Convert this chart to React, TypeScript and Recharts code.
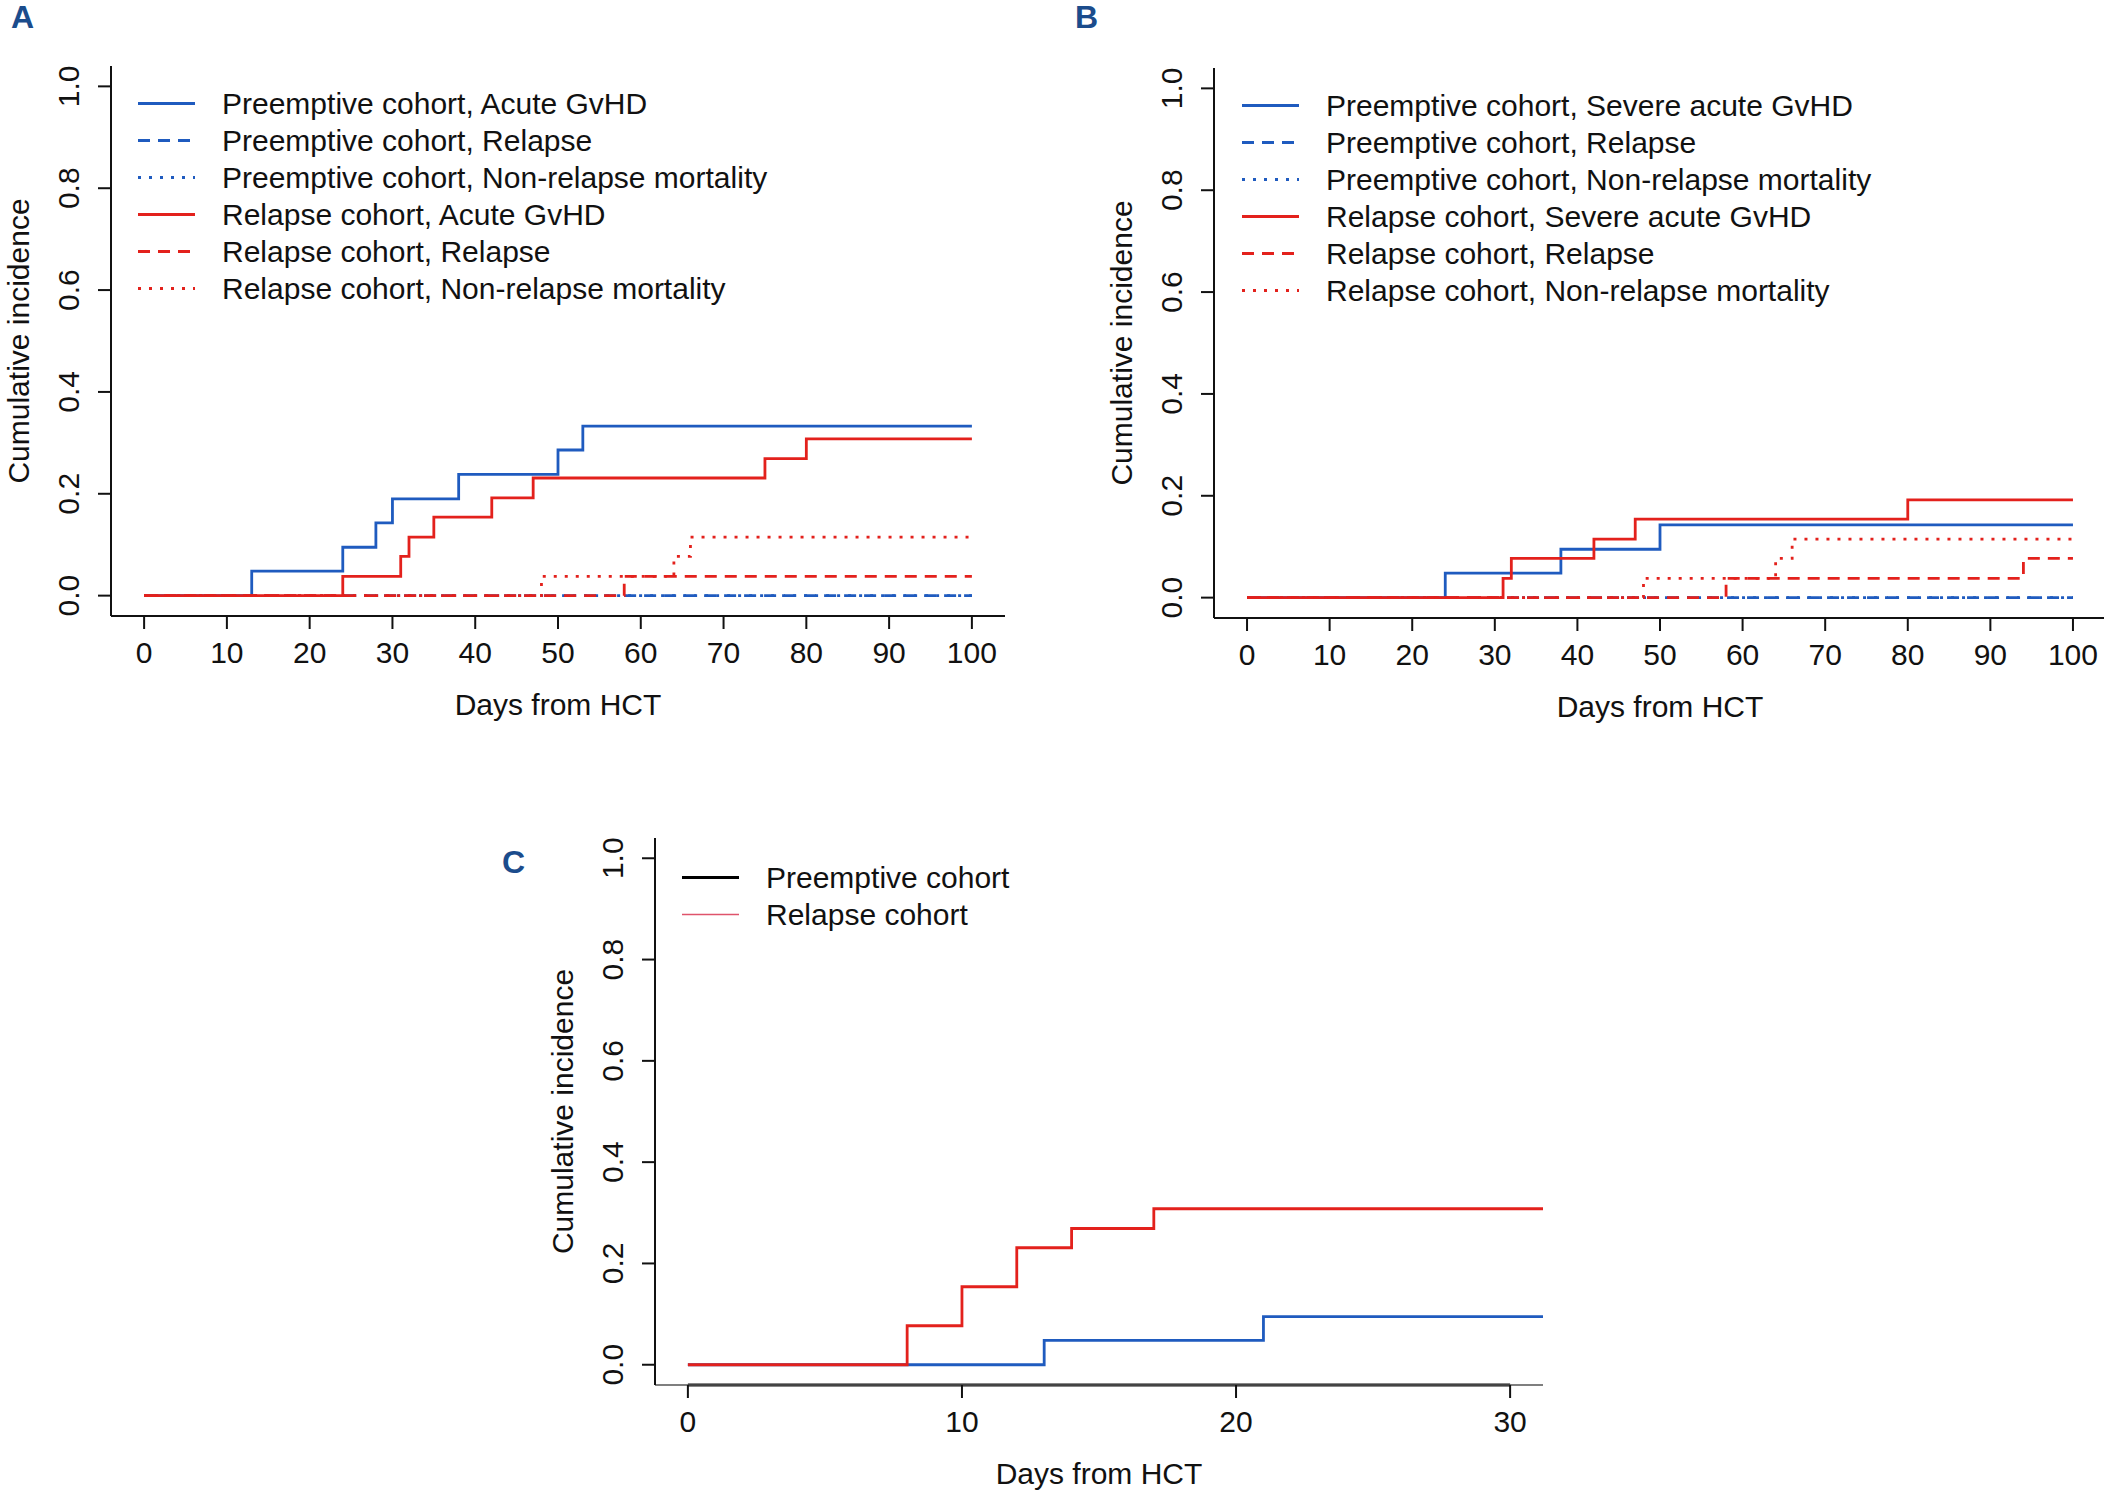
import React from 'react';
import { LineChart, Line, XAxis, YAxis, Legend, ReferenceLine } from 'recharts';

const FONT = '"Liberation Sans", Arial, Helvetica, sans-serif';
const INK = '#111111';
const BLUE = '#1f5bbf';
const RED = '#e3211c';
const PINK = '#df536b';
const PANEL_LABEL = '#1b4c8c';
const DASHED = '12 8';
const DOTTED = '3 8';
const LW = 2.8;

// axis ticks
const daysTicks100 = [0, 10, 20, 30, 40, 50, 60, 70, 80, 90, 100];
const daysTicks30 = [0, 10, 20, 30];
const ciTicks = [0, 0.2, 0.4, 0.6, 0.8, 1.0];

// panel A – acute GvHD, relapse, NRM
const daysA_preGvhd = [0, 13, 24, 28, 30, 38, 50, 53, 100];
const ciA_preGvhd = [0, 0.048, 0.095, 0.143, 0.19, 0.238, 0.286, 0.333, 0.333];
const daysA_relGvhd = [0, 24, 31, 32, 35, 42, 47, 75, 80, 100];
const ciA_relGvhd = [0, 0.038, 0.077, 0.115, 0.154, 0.192, 0.231, 0.269, 0.308, 0.308];
const daysA_relRelapse = [0, 58, 100];
const ciA_relRelapse = [0, 0.038, 0.038];
const daysA_relNrm = [0, 48, 64, 66, 100];
const ciA_relNrm = [0, 0.038, 0.077, 0.115, 0.115];

// preemptive cohort relapse / NRM stay at zero (A and B)
const daysPreFlat = [0, 100];
const ciPreFlat = [0, 0];

// panel B – severe acute GvHD, relapse, NRM
const daysB_preGvhd = [0, 24, 38, 50, 100];
const ciB_preGvhd = [0, 0.048, 0.095, 0.143, 0.143];
const daysB_relGvhd = [0, 31, 32, 42, 47, 80, 100];
const ciB_relGvhd = [0, 0.038, 0.077, 0.115, 0.154, 0.192, 0.192];
const daysB_relRelapse = [0, 58, 94, 100];
const ciB_relRelapse = [0, 0.038, 0.077, 0.077];
const daysB_relNrm = [0, 48, 64, 66, 100];
const ciB_relNrm = [0, 0.038, 0.077, 0.115, 0.115];

// panel C
const daysC_pre = [0, 13, 21, 100];
const ciC_pre = [0, 0.048, 0.095, 0.095];
const daysC_rel = [0, 8, 10, 12, 14, 17, 100];
const ciC_rel = [0, 0.077, 0.154, 0.231, 0.269, 0.308, 0.308];

const legendA = [
  'Preemptive cohort, Acute GvHD',
  'Preemptive cohort, Relapse',
  'Preemptive cohort, Non-relapse mortality',
  'Relapse cohort, Acute GvHD',
  'Relapse cohort, Relapse',
  'Relapse cohort, Non-relapse mortality',
];
const legendB = [
  'Preemptive cohort, Severe acute GvHD',
  'Preemptive cohort, Relapse',
  'Preemptive cohort, Non-relapse mortality',
  'Relapse cohort, Severe acute GvHD',
  'Relapse cohort, Relapse',
  'Relapse cohort, Non-relapse mortality',
];
const legendC = ['Preemptive cohort', 'Relapse cohort'];

const steps = (days: number[], ci: number[], key: string) =>
  days.map((d, i) => ({ day: d, [key]: ci[i] }));

type Series = { key: string; data: any[]; color: string; dash?: string; width: number };
type LegendItem = { label: string; color: string; dash?: string; width: number };

const styleSix = [
  { color: BLUE, dash: undefined, width: LW },
  { color: BLUE, dash: DASHED, width: LW },
  { color: BLUE, dash: DOTTED, width: LW },
  { color: RED, dash: undefined, width: LW },
  { color: RED, dash: DASHED, width: LW },
  { color: RED, dash: DOTTED, width: LW },
];

const seriesA: Series[] = [
  { key: 'preGvhd', data: steps(daysA_preGvhd, ciA_preGvhd, 'preGvhd'), color: BLUE, width: LW },
  { key: 'preNrm', data: steps(daysPreFlat, ciPreFlat, 'preNrm'), color: BLUE, dash: DOTTED, width: LW },
  { key: 'preRelapse', data: steps(daysPreFlat, ciPreFlat, 'preRelapse'), color: BLUE, dash: DASHED, width: LW },
  { key: 'relGvhd', data: steps(daysA_relGvhd, ciA_relGvhd, 'relGvhd'), color: RED, width: LW },
  { key: 'relRelapse', data: steps(daysA_relRelapse, ciA_relRelapse, 'relRelapse'), color: RED, dash: DASHED, width: LW },
  { key: 'relNrm', data: steps(daysA_relNrm, ciA_relNrm, 'relNrm'), color: RED, dash: DOTTED, width: LW },
];

const seriesB: Series[] = [
  { key: 'preGvhd', data: steps(daysB_preGvhd, ciB_preGvhd, 'preGvhd'), color: BLUE, width: LW },
  { key: 'preNrm', data: steps(daysPreFlat, ciPreFlat, 'preNrm'), color: BLUE, dash: DOTTED, width: LW },
  { key: 'preRelapse', data: steps(daysPreFlat, ciPreFlat, 'preRelapse'), color: BLUE, dash: DASHED, width: LW },
  { key: 'relGvhd', data: steps(daysB_relGvhd, ciB_relGvhd, 'relGvhd'), color: RED, width: LW },
  { key: 'relRelapse', data: steps(daysB_relRelapse, ciB_relRelapse, 'relRelapse'), color: RED, dash: DASHED, width: LW },
  { key: 'relNrm', data: steps(daysB_relNrm, ciB_relNrm, 'relNrm'), color: RED, dash: DOTTED, width: LW },
];

const seriesC: Series[] = [
  { key: 'pre', data: steps(daysC_pre, ciC_pre, 'pre'), color: BLUE, width: LW },
  { key: 'rel', data: steps(daysC_rel, ciC_rel, 'rel'), color: RED, width: LW },
];

const XTick = (props: any) => {
  const { x, y, payload } = props;
  return (
    <text x={x} y={y + 34} textAnchor="middle" fontFamily={FONT} fontSize={30} fill={INK}>
      {payload.value}
    </text>
  );
};

const YTick = (props: any) => {
  const { x, y, payload } = props;
  const bx = x - 19;
  return (
    <text
      x={bx}
      y={y}
      transform={`rotate(-90 ${bx} ${y})`}
      textAnchor="middle"
      fontFamily={FONT}
      fontSize={30}
      fill={INK}
    >
      {Number(payload.value).toFixed(1)}
    </text>
  );
};

const yTitle = (props: any) => {
  const { x, y, width, height } = props.viewBox;
  const bx = x + width - 82;
  const cy = y + height / 2;
  return (
    <text
      x={bx}
      y={cy}
      transform={`rotate(-90 ${bx} ${cy})`}
      textAnchor="middle"
      fontFamily={FONT}
      fontSize={30}
      fill={INK}
    >
      Cumulative incidence
    </text>
  );
};

const xTitle = (props: any) => {
  const { x, y, width } = props.viewBox;
  return (
    <text x={x + width / 2} y={y + 99} textAnchor="middle" fontFamily={FONT} fontSize={30} fill={INK}>
      Days from HCT
    </text>
  );
};

function LegendBox({ items }: { items: LegendItem[] }) {
  return (
    <div style={{ fontFamily: FONT, fontSize: 30, color: INK }}>
      {items.map((it) => (
        <div key={it.label} style={{ height: 37, display: 'flex', alignItems: 'center', whiteSpace: 'nowrap' }}>
          <svg width={84} height={37} style={{ flex: 'none' }}>
            <line x1={0} x2={57} y1={18.5} y2={18.5} stroke={it.color} strokeWidth={it.width} strokeDasharray={it.dash} />
          </svg>
          <span style={{ lineHeight: '37px' }}>{it.label}</span>
        </div>
      ))}
    </div>
  );
}

interface PanelProps {
  left: number;
  top: number;
  width: number;
  height: number;
  margin: { top: number; right: number; bottom: number; left: number };
  yAxisWidth: number;
  xAxisHeight: number;
  xDomain: [number, number];
  xTicks: number[];
  clipX?: boolean;
  series: Series[];
  legend: LegendItem[];
  legendPos: { left: number; top: number };
  boldAxisSpan?: boolean;
}

function Panel(p: PanelProps) {
  return (
    <div style={{ position: 'absolute', left: p.left, top: p.top, width: p.width, height: p.height }}>
      <LineChart width={p.width} height={p.height} margin={p.margin}>
        <XAxis
          type="number"
          dataKey="day"
          domain={p.xDomain}
          ticks={p.xTicks}
          interval={0}
          allowDataOverflow={!!p.clipX}
          height={p.xAxisHeight}
          tickSize={13}
          tickMargin={0}
          axisLine={p.boldAxisSpan ? { stroke: '#555', strokeWidth: 1.5 } : { stroke: INK, strokeWidth: 2 }}
          tickLine={{ stroke: INK, strokeWidth: 2 }}
          tick={<XTick />}
          label={xTitle}
        />
        <YAxis
          type="number"
          domain={[-0.04, 1.04]}
          ticks={ciTicks}
          interval={0}
          width={p.yAxisWidth}
          tickSize={13}
          tickMargin={0}
          axisLine={{ stroke: INK, strokeWidth: 2 }}
          tickLine={{ stroke: INK, strokeWidth: 2 }}
          tick={<YTick />}
          label={yTitle}
        />
        {p.boldAxisSpan && (
          <ReferenceLine
            segment={[
              { x: p.xTicks[0], y: -0.04 },
              { x: p.xTicks[p.xTicks.length - 1], y: -0.04 },
            ]}
            stroke={INK}
            strokeWidth={3}
          />
        )}
        {p.series.map((s) => (
          <Line
            key={s.key}
            data={s.data}
            dataKey={s.key}
            type="stepAfter"
            stroke={s.color}
            strokeWidth={s.width}
            strokeDasharray={s.dash}
            dot={false}
            activeDot={false}
            isAnimationActive={false}
          />
        ))}
        <Legend
          layout="horizontal"
          verticalAlign="middle"
          align="center"
          wrapperStyle={{ left: p.legendPos.left, top: p.legendPos.top, width: 760, height: 230 }}
          content={() => <LegendBox items={p.legend} />}
        />
      </LineChart>
    </div>
  );
}

const legendItemsA: LegendItem[] = legendA.map((label, i) => ({ label, ...styleSix[i] }));
const legendItemsB: LegendItem[] = legendB.map((label, i) => ({ label, ...styleSix[i] }));
const legendItemsC: LegendItem[] = [
  { label: legendC[0], color: '#000000', width: LW },
  { label: legendC[1], color: PINK, width: 1.6 },
];

export default function App() {
  return (
    <div
      style={{
        position: 'absolute',
        left: 0,
        top: 0,
        width: 2104,
        height: 1494,
        overflow: 'hidden',
        background: '#ffffff',
      }}
    >
      <Panel
        left={0}
        top={0}
        width={1050}
        height={740}
        margin={{ top: 66, right: 45, bottom: 14, left: 0 }}
        yAxisWidth={111}
        xAxisHeight={110}
        xDomain={[-4, 104]}
        xTicks={daysTicks100}
        series={seriesA}
        legend={legendItemsA}
        legendPos={{ left: 138, top: 85 }}
      />
      <Panel
        left={1050}
        top={0}
        width={1060}
        height={740}
        margin={{ top: 68, right: 4, bottom: 12, left: 0 }}
        yAxisWidth={164}
        xAxisHeight={110}
        xDomain={[-4, 104]}
        xTicks={daysTicks100}
        series={seriesB}
        legend={legendItemsB}
        legendPos={{ left: 192, top: 87 }}
      />
      <Panel
        left={480}
        top={780}
        width={1100}
        height={714}
        margin={{ top: 58, right: 37, bottom: 9, left: 0 }}
        yAxisWidth={175}
        xAxisHeight={100}
        xDomain={[-1.2, 31.2]}
        xTicks={daysTicks30}
        clipX
        boldAxisSpan
        series={seriesC}
        legend={legendItemsC}
        legendPos={{ left: 202, top: 79 }}
      />
      <svg
        width={2104}
        height={1494}
        style={{ position: 'absolute', left: 0, top: 0, pointerEvents: 'none' }}
      >
        <text x={11} y={28} fontFamily={FONT} fontWeight="bold" fontSize={32} fill={PANEL_LABEL}>A</text>
        <text x={1075} y={28} fontFamily={FONT} fontWeight="bold" fontSize={32} fill={PANEL_LABEL}>B</text>
        <text x={502} y={873} fontFamily={FONT} fontWeight="bold" fontSize={32} fill={PANEL_LABEL}>C</text>
      </svg>
    </div>
  );
}
